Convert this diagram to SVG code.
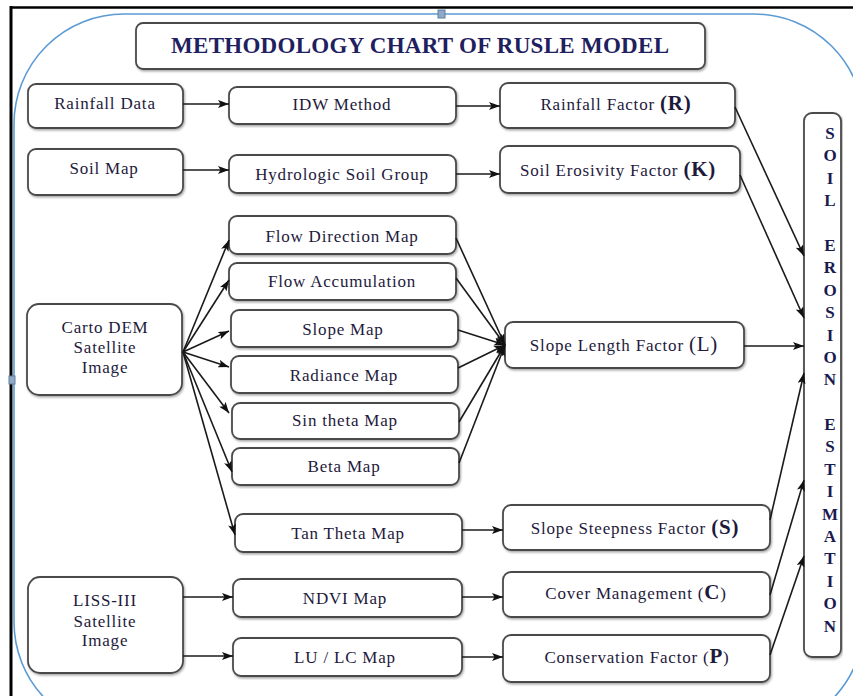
<svg xmlns="http://www.w3.org/2000/svg" width="853" height="696" viewBox="0 0 853 696">
<defs>
<filter id="sh" x="-5%" y="-5%" width="110%" height="115%">
<feDropShadow dx="1" dy="1.5" stdDeviation="1" flood-color="#000" flood-opacity="0.35"/>
</filter>
<marker id="ah" markerUnits="userSpaceOnUse" markerWidth="11" markerHeight="8" refX="11" refY="4" orient="auto">
<path d="M0,0 L11,4 L0,8 L2.5,4 Z" fill="#111"/>
</marker>
</defs>
<style>
.box{fill:#fff;stroke:#4a4a4a;stroke-width:1.8;filter:url(#sh)}
text{font-family:'Liberation Serif','DejaVu Serif',serif}
.lbl{font-size:17px;fill:#1e1a3c;text-anchor:middle;letter-spacing:0.8px}
.big{font-size:21px;font-weight:bold}
.vt{font-size:17px;font-weight:bold;fill:#1a1a50;text-anchor:middle}
.title{font-size:23px;font-weight:bold;fill:#1f2060;text-anchor:middle}
.con line{stroke:#1a1a1a;stroke-width:1.6;marker-end:url(#ah)}
</style>
<rect width="853" height="696" fill="#fff"/>
<g id="frame">
<line x1="10" y1="7.5" x2="853" y2="7.5" stroke="#000" stroke-width="2.5"/>
<line x1="11" y1="6" x2="11" y2="696" stroke="#000" stroke-width="3"/>
<path d="M124,14 L754,14 A110,110 0 0 1 864,124 L864,622 A110,110 0 0 1 754,732 L124,732 A110,110 0 0 1 14,622 L14,124 A110,110 0 0 1 124,14 Z" fill="none" stroke="#5b9bd5" stroke-width="1.6"/>
<rect x="438" y="10" width="7" height="8" fill="#8fa9c6" stroke="#5f7fa0" stroke-width="1"/>
<rect x="9" y="376" width="6" height="8" fill="#8fa9c6" stroke="#5f7fa0" stroke-width="1"/>
</g>
<g id="title">
<rect class="box" x="136" y="23" width="569" height="46" rx="7"/>
<text class="title" x="420" y="53" textLength="498" lengthAdjust="spacing">METHODOLOGY CHART OF RUSLE MODEL</text>
</g>
<g id="rainfall-data"><rect class="box" x="28" y="84" width="155" height="44" rx="8"/><text class="lbl" x="105" y="109">Rainfall Data</text></g>
<g id="idw"><rect class="box" x="229" y="87" width="227" height="37" rx="8"/><text class="lbl" x="342" y="110">IDW Method</text></g>
<g id="rainfall-factor"><rect class="box" x="500" y="83" width="235" height="45" rx="8"/><text class="lbl" x="616" y="110">Rainfall Factor <tspan class="big">(R)</tspan></text></g>
<g id="soil-map"><rect class="box" x="28" y="149" width="155" height="46" rx="8"/><text class="lbl" x="104" y="174">Soil Map</text></g>
<g id="hsg"><rect class="box" x="229" y="155" width="227" height="38" rx="8"/><text class="lbl" x="342" y="180">Hydrologic Soil Group</text></g>
<g id="soil-k"><rect class="box" x="500" y="146" width="240" height="47" rx="8"/><text class="lbl" x="618" y="176">Soil Erosivity Factor <tspan class="big">(K)</tspan></text></g>
<g id="carto"><rect class="box" x="27" y="304" width="155" height="91" rx="12"/>
<text class="lbl" x="105" y="333">Carto DEM</text><text class="lbl" x="105" y="353">Satellite</text><text class="lbl" x="105" y="373">Image</text></g>
<g id="flow-dir"><rect class="box" x="229" y="216" width="227" height="38" rx="8"/><text class="lbl" x="342" y="242">Flow Direction Map</text></g>
<g id="flow-acc"><rect class="box" x="229" y="263" width="227" height="37" rx="8"/><text class="lbl" x="342" y="287">Flow Accumulation</text></g>
<g id="slope-map"><rect class="box" x="231" y="310" width="227" height="37" rx="8"/><text class="lbl" x="343" y="335">Slope Map</text></g>
<g id="radiance"><rect class="box" x="231" y="356" width="227" height="37" rx="8"/><text class="lbl" x="344" y="381">Radiance Map</text></g>
<g id="sin-theta"><rect class="box" x="232" y="403" width="227" height="36" rx="8"/><text class="lbl" x="345" y="426">Sin theta Map</text></g>
<g id="beta"><rect class="box" x="232" y="448" width="227" height="37" rx="8"/><text class="lbl" x="344" y="472">Beta Map</text></g>
<g id="tan-theta"><rect class="box" x="235" y="514" width="227" height="38" rx="8"/><text class="lbl" x="348" y="539">Tan Theta Map</text></g>
<g id="slope-length"><rect class="box" x="505" y="322" width="239" height="46" rx="8"/><text class="lbl" x="624" y="351">Slope Length Factor <tspan font-size="21px">(L)</tspan></text></g>
<g id="slope-steep"><rect class="box" x="503" y="505" width="267" height="45" rx="8"/><text class="lbl" x="635" y="534">Slope Steepness Factor <tspan class="big">(S)</tspan></text></g>
<g id="liss"><rect class="box" x="28" y="577" width="155" height="96" rx="12"/>
<text class="lbl" x="105" y="606">LISS-III</text><text class="lbl" x="105" y="627">Satellite</text><text class="lbl" x="105" y="646">Image</text></g>
<g id="ndvi"><rect class="box" x="233" y="579" width="229" height="38" rx="8"/><text class="lbl" x="345" y="604">NDVI Map</text></g>
<g id="lulc"><rect class="box" x="233" y="638" width="229" height="38" rx="8"/><text class="lbl" x="345" y="663">LU / LC Map</text></g>
<g id="cover"><rect class="box" x="503" y="572" width="267" height="45" rx="8"/><text class="lbl" x="636" y="599">Cover Management (<tspan class="big">C</tspan>)</text></g>
<g id="conservation"><rect class="box" x="503" y="635" width="267" height="47" rx="8"/><text class="lbl" x="637" y="663">Conservation Factor (<tspan class="big">P</tspan>)</text></g>
<g id="estimation"><rect class="box" x="804" y="113" width="37" height="544" rx="8"/>
<text class="vt" x="830" y="139">S</text><text class="vt" x="830" y="161">O</text><text class="vt" x="830" y="184">I</text><text class="vt" x="830" y="206">L</text>
<text class="vt" x="830" y="251">E</text><text class="vt" x="830" y="273">R</text><text class="vt" x="830" y="296">O</text><text class="vt" x="830" y="318">S</text><text class="vt" x="830" y="341">I</text><text class="vt" x="830" y="363">O</text><text class="vt" x="830" y="385">N</text>
<text class="vt" x="830" y="430">E</text><text class="vt" x="830" y="452">S</text><text class="vt" x="830" y="475">T</text><text class="vt" x="830" y="497">I</text><text class="vt" x="830" y="520">M</text><text class="vt" x="830" y="542">A</text><text class="vt" x="830" y="564">T</text><text class="vt" x="830" y="587">I</text><text class="vt" x="830" y="609">O</text><text class="vt" x="830" y="632">N</text>
</g>
<g id="connectors" class="con">
<line x1="183" y1="104" x2="229" y2="104"/>
<line x1="456" y1="106" x2="500" y2="106"/>
<line x1="183" y1="170" x2="229" y2="170"/>
<line x1="456" y1="174" x2="500" y2="174"/>
<line x1="183" y1="352" x2="229" y2="240"/>
<line x1="183" y1="352" x2="229" y2="280"/>
<line x1="183" y1="352" x2="229" y2="331"/>
<line x1="183" y1="352" x2="229" y2="367"/>
<line x1="183" y1="352" x2="229" y2="413"/>
<line x1="183" y1="352" x2="232" y2="472"/>
<line x1="183" y1="352" x2="235" y2="535"/>
<line x1="456" y1="238" x2="505" y2="345"/>
<line x1="456" y1="278" x2="505" y2="345"/>
<line x1="458" y1="330" x2="505" y2="345"/>
<line x1="458" y1="368" x2="505" y2="345"/>
<line x1="459" y1="422" x2="505" y2="345"/>
<line x1="459" y1="463" x2="505" y2="345"/>
<line x1="744" y1="346" x2="804" y2="346"/>
<line x1="735" y1="107" x2="804" y2="256"/>
<line x1="740" y1="175" x2="804" y2="318"/>
<line x1="462" y1="530" x2="503" y2="530"/>
<line x1="770" y1="520" x2="804" y2="373"/>
<line x1="183" y1="597" x2="233" y2="597"/>
<line x1="183" y1="656" x2="233" y2="656"/>
<line x1="462" y1="597" x2="503" y2="597"/>
<line x1="462" y1="657" x2="503" y2="657"/>
<line x1="770" y1="595" x2="804" y2="480"/>
<line x1="770" y1="655" x2="804" y2="556"/>
</g>
</svg>
